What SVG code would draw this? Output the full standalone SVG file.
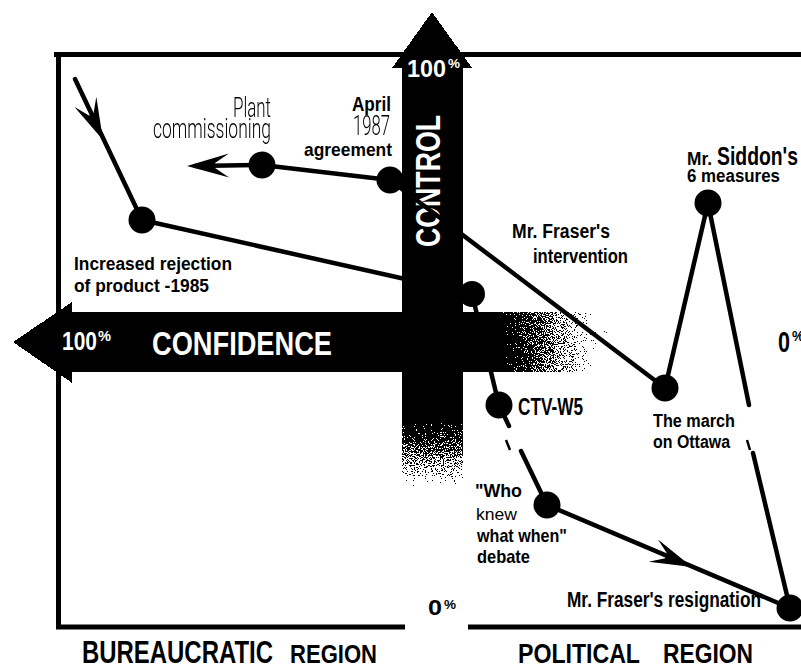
<svg xmlns="http://www.w3.org/2000/svg" width="801" height="670" viewBox="0 0 801 670">
<defs>
<style>
.b{font-family:'Liberation Sans Narrow','Liberation Sans',Arial,sans-serif;font-weight:bold;fill:#000}
.r{font-family:'Liberation Sans Narrow','Liberation Sans',Arial,sans-serif;font-weight:normal;fill:#000}
.l{font-family:Roboto,'Liberation Sans Narrow','Liberation Sans',sans-serif;font-weight:300;fill:#000}
.w{font-family:'Liberation Sans Narrow','Liberation Sans',Arial,sans-serif;font-weight:bold;fill:#fff}
.ln{stroke:#000;stroke-width:4.5;fill:none;stroke-linecap:round;stroke-linejoin:round}
.tk{stroke:#000;stroke-width:2.5;fill:none}
.dot{fill:#000}
.frame{stroke:#000;stroke-width:5;fill:none}
</style>
<linearGradient id="gH" gradientUnits="userSpaceOnUse" x1="72" y1="0" x2="615" y2="0">
<stop offset="0" stop-color="#000"/>
<stop offset="0.79" stop-color="#000"/>
<stop offset="0.8" stop-color="#000" stop-opacity="0.72"/>
<stop offset="0.92" stop-color="#000" stop-opacity="0.4"/>
<stop offset="1" stop-color="#000" stop-opacity="0.12"/>
</linearGradient>
<linearGradient id="gV" gradientUnits="userSpaceOnUse" x1="0" y1="68" x2="0" y2="497">
<stop offset="0" stop-color="#000"/>
<stop offset="0.82" stop-color="#000"/>
<stop offset="0.83" stop-color="#000" stop-opacity="0.72"/>
<stop offset="0.94" stop-color="#000" stop-opacity="0.4"/>
<stop offset="1" stop-color="#000" stop-opacity="0.1"/>
</linearGradient>
<filter id="dither" x="0" y="0" width="1" height="1" color-interpolation-filters="sRGB">
<feTurbulence type="fractalNoise" baseFrequency="0.9" numOctaves="2" seed="7" result="n"/>
<feColorMatrix in="n" type="matrix" values="0 0 0 0 0  0 0 0 0 0  0 0 0 0 0  1 0 0 0 0" result="na"/>
<feComposite in="SourceGraphic" in2="na" operator="arithmetic" k1="0" k2="1" k3="-1" k4="0.5" result="d"/>
<feColorMatrix in="d" type="matrix" values="0 0 0 0 0  0 0 0 0 0  0 0 0 0 0  0 0 0 1 0" result="k"/>
<feComponentTransfer in="k"><feFuncA type="discrete" tableValues="0 1"/></feComponentTransfer>
</filter>
<polygon id="barb" points="0,0 -42,-12 -28,-2.5 -28,2.5 -42,12" fill="#000"/>
</defs>
<rect width="801" height="670" fill="#fff"/>

<g id="frame" class="frame">
<path d="M54,54.5 H801 M58.5,52 V629 M56,627 H405 M468,627 H801"/>
</g>

<g id="control-axis">
<path d="M432,12 L472,68 L463,68 L463,497 L402,497 L402,68 L392,68 Z" fill="url(#gV)" filter="url(#dither)"/>
<text class="w" x="407" y="77" font-size="24" textLength="39" lengthAdjust="spacingAndGlyphs">100</text>
<text class="w" x="448" y="68" font-size="13" textLength="12" lengthAdjust="spacingAndGlyphs">%</text>
<text class="w" transform="translate(440,247) rotate(-90)" font-size="35" textLength="132" lengthAdjust="spacingAndGlyphs">CONTROL</text>
</g>

<g id="confidence-axis">
<path d="M13,342 L72,302 L72,312 L615,312 L615,372 L72,372 L72,383 Z" fill="url(#gH)" filter="url(#dither)"/>
<text class="w" x="62" y="350" font-size="25" textLength="35" lengthAdjust="spacingAndGlyphs">100</text>
<text class="w" x="98" y="341" font-size="14" textLength="13" lengthAdjust="spacingAndGlyphs">%</text>
<text class="w" x="152" y="355" font-size="33" textLength="180" lengthAdjust="spacingAndGlyphs">CONFIDENCE</text>
</g>

<g id="connectors">
<path class="ln" d="M75,79 L142,220"/>
<use href="#barb" transform="translate(103,140) rotate(65.25)"/>
<path class="ln" d="M142,220 L472,294 L499,405 L509,426"/>
<path class="tk" d="M506,440 L510,450"/>
<path class="ln" d="M521,451 L547,505 L790,608"/>
<use href="#barb" transform="translate(692,567) rotate(22.97)"/>
<path class="ln" d="M390,180 L665,388 L708,203 L749,405"/>
<path class="tk" d="M747,440 L750,450"/>
<path class="ln" d="M753,453 L790,608"/>
<path class="ln" d="M390,180 L262,165 L195,166"/>
<use href="#barb" transform="translate(187,166) rotate(179.2)"/>
</g>

<g id="node-plant">
<circle class="dot" cx="262" cy="165" r="13.5"/>
<g opacity="0.99">
<text class="l" x="233" y="117" font-size="28" textLength="38" lengthAdjust="spacingAndGlyphs">Plant</text>
<text class="l" x="153" y="138" font-size="28" textLength="118" lengthAdjust="spacingAndGlyphs">commissioning</text>
</g>
</g>

<g id="node-april">
<circle class="dot" cx="390" cy="180" r="13.5"/>
<text class="b" x="352" y="111" font-size="20" textLength="39" lengthAdjust="spacingAndGlyphs">April</text>
<text class="l" x="353" y="135" font-size="28" textLength="37" lengthAdjust="spacingAndGlyphs" opacity="0.99">1987</text>
<text class="b" x="304" y="156" font-size="19" textLength="88" lengthAdjust="spacingAndGlyphs">agreement</text>
</g>

<g id="node-rejection">
<circle class="dot" cx="142" cy="220" r="13.5"/>
<text class="b" x="74" y="270" font-size="18" textLength="158" lengthAdjust="spacingAndGlyphs">Increased rejection</text>
<text class="b" x="74" y="292" font-size="18" textLength="135" lengthAdjust="spacingAndGlyphs">of product -1985</text>
</g>

<g id="node-crossing">
<circle class="dot" cx="472" cy="294" r="13"/>
</g>

<g id="node-intervention">
<text class="b" x="512" y="238" font-size="20" textLength="98" lengthAdjust="spacingAndGlyphs">Mr. Fraser's</text>
<text class="b" x="533" y="263" font-size="20" textLength="95" lengthAdjust="spacingAndGlyphs">intervention</text>
</g>

<g id="node-siddon">
<circle class="dot" cx="708" cy="203" r="13.5"/>
<text class="b" x="687" y="165" font-size="18" textLength="25" lengthAdjust="spacingAndGlyphs">Mr.</text>
<text class="b" x="717" y="165" font-size="25" textLength="81" lengthAdjust="spacingAndGlyphs">Siddon's</text>
<text class="b" x="687" y="182" font-size="18" textLength="93" lengthAdjust="spacingAndGlyphs">6 measures</text>
</g>

<g id="node-march">
<circle class="dot" cx="665" cy="388" r="13.5"/>
<text class="b" x="653" y="427" font-size="18" textLength="82" lengthAdjust="spacingAndGlyphs">The march</text>
<text class="b" x="653" y="448" font-size="18" textLength="77" lengthAdjust="spacingAndGlyphs">on Ottawa</text>
</g>

<g id="node-ctv">
<circle class="dot" cx="499" cy="405" r="13.5"/>
<text class="b" x="518" y="415" font-size="23" textLength="65" lengthAdjust="spacingAndGlyphs">CTV-W5</text>
</g>

<g id="node-whoknew">
<circle class="dot" cx="547" cy="505" r="13.5"/>
<text class="b" x="475" y="497" font-size="19" textLength="47" lengthAdjust="spacingAndGlyphs">"Who</text>
<text class="r" x="476" y="520" font-size="17" textLength="41" lengthAdjust="spacingAndGlyphs">knew</text>
<text class="b" x="477" y="542" font-size="19" textLength="90" lengthAdjust="spacingAndGlyphs">what when"</text>
<text class="b" x="477" y="563" font-size="19" textLength="53" lengthAdjust="spacingAndGlyphs">debate</text>
</g>

<g id="node-resignation">
<circle class="dot" cx="790" cy="608" r="13.5"/>
<text class="b" x="567" y="607" font-size="22" textLength="194" lengthAdjust="spacingAndGlyphs">Mr. Fraser's resignation</text>
</g>

<g id="scale-labels">
<text class="b" x="428" y="615" font-size="22" textLength="14" lengthAdjust="spacingAndGlyphs">0</text>
<text class="b" x="444" y="609" font-size="13" textLength="12" lengthAdjust="spacingAndGlyphs">%</text>
<text class="b" x="778" y="352" font-size="30" textLength="12" lengthAdjust="spacingAndGlyphs">0</text>
<text class="b" x="792" y="341" font-size="15" textLength="12" lengthAdjust="spacingAndGlyphs">%</text>
</g>

<g id="region-labels">
<text class="b" x="82" y="663" font-size="31" textLength="191" lengthAdjust="spacingAndGlyphs">BUREAUCRATIC</text>
<text class="b" x="290" y="663" font-size="25" textLength="87" lengthAdjust="spacingAndGlyphs">REGION</text>
<text class="b" x="518" y="663" font-size="27" textLength="122" lengthAdjust="spacingAndGlyphs">POLITICAL</text>
<text class="b" x="663" y="663" font-size="27" textLength="90" lengthAdjust="spacingAndGlyphs">REGION</text>
</g>
</svg>
